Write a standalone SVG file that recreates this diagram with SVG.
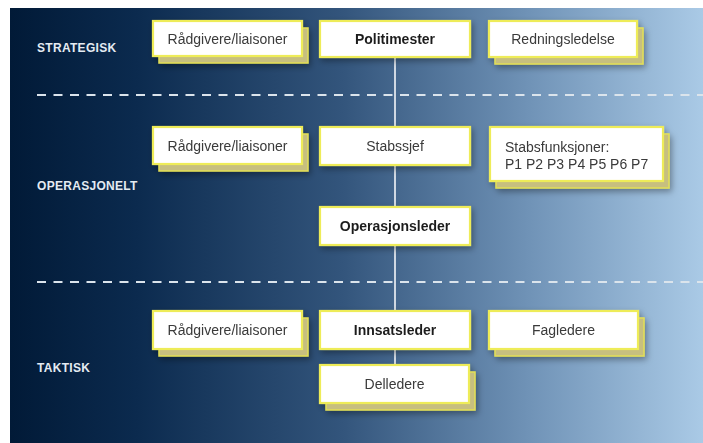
<svg xmlns="http://www.w3.org/2000/svg" width="703" height="443" viewBox="0 0 703 443">
<defs>
<linearGradient id="bg" x1="10" y1="0" x2="703" y2="0" gradientUnits="userSpaceOnUse">
<stop offset="0" stop-color="#011a37"/>
<stop offset="0.18" stop-color="#0b2a4e"/>
<stop offset="0.48" stop-color="#33557c"/>
<stop offset="0.75" stop-color="#7093b7"/>
<stop offset="1" stop-color="#aacae6"/>
</linearGradient>
<filter id="ds" x="-20%" y="-30%" width="140%" height="170%">
<feDropShadow dx="2" dy="3" stdDeviation="3" flood-color="#000" flood-opacity="0.35"/>
</filter>
<style>
.box{fill:#fff;stroke:#eeec58;stroke-width:2.2}
.sh{fill:#c7bf7f;stroke:#e3df55;stroke-width:1.5}
.t{font-family:"Liberation Sans",Arial,sans-serif;font-size:14px;fill:#3a3a3a;text-anchor:middle}
.l{text-anchor:start}
.b{font-weight:bold;fill:#1e1e1e}
.lvl{font-family:"Liberation Sans",Arial,sans-serif;font-size:12px;font-weight:bold;fill:#e4ebf2;letter-spacing:0.3px}
.dash{stroke:#dbe4ec;stroke-width:2;stroke-dasharray:9 7.5;fill:none}
</style>
</defs>
<rect x="0" y="0" width="703" height="443" fill="#fff"/>
<rect x="10" y="8" width="693" height="435" fill="url(#bg)"/>
<g id="dividers">
<line class="dash" x1="37" y1="95" x2="703" y2="95"/>
<line class="dash" x1="37" y1="282" x2="703" y2="282"/>
</g>
<g id="levels">
<text class="lvl" x="37" y="52">STRATEGISK</text>
<text class="lvl" x="37" y="190">OPERASJONELT</text>
<text class="lvl" x="37" y="372">TAKTISK</text>
</g>
<g id="connectors">
<line x1="395" y1="57" x2="395" y2="365" stroke="#fff" stroke-width="1.5"/>
</g>
<g id="n-raad1" filter="url(#ds)">
<rect class="sh" x="159" y="28" width="149" height="35"/>
<rect class="box" x="153" y="21" width="149" height="35"/>
<text class="t" x="227.5" y="44">Rådgivere/liaisoner</text>
</g>
<g id="n-politimester" filter="url(#ds)">
<rect class="box" x="320" y="21" width="150" height="36"/>
<text class="t b" x="395" y="44">Politimester</text>
</g>
<g id="n-redning" filter="url(#ds)">
<rect class="sh" x="495" y="28" width="148" height="36"/>
<rect class="box" x="489" y="21" width="148" height="36"/>
<text class="t" x="563" y="44">Redningsledelse</text>
</g>
<g id="n-raad2" filter="url(#ds)">
<rect class="sh" x="159" y="134" width="149" height="37"/>
<rect class="box" x="153" y="127" width="149" height="37"/>
<text class="t" x="227.5" y="151">Rådgivere/liaisoner</text>
</g>
<g id="n-stabssjef" filter="url(#ds)">
<rect class="box" x="320" y="127" width="150" height="38"/>
<text class="t" x="395" y="151">Stabssjef</text>
</g>
<g id="n-stabsfunksjoner" filter="url(#ds)">
<rect class="sh" x="496" y="134" width="173" height="54"/>
<rect class="box" x="490" y="127" width="173" height="54"/>
<text class="t l" x="505" y="152">Stabsfunksjoner:</text>
<text class="t l" x="505" y="169">P1 P2 P3 P4 P5 P6 P7</text>
</g>
<g id="n-operasjonsleder" filter="url(#ds)">
<rect class="box" x="320" y="207" width="150" height="38"/>
<text class="t b" x="395" y="231">Operasjonsleder</text>
</g>
<g id="n-raad3" filter="url(#ds)">
<rect class="sh" x="159" y="318" width="149" height="38"/>
<rect class="box" x="153" y="311" width="149" height="38"/>
<text class="t" x="227.5" y="335">Rådgivere/liaisoner</text>
</g>
<g id="n-innsatsleder" filter="url(#ds)">
<rect class="box" x="320" y="311" width="150" height="38"/>
<text class="t b" x="395" y="335">Innsatsleder</text>
</g>
<g id="n-fagledere" filter="url(#ds)">
<rect class="sh" x="495" y="318" width="149" height="38"/>
<rect class="box" x="489" y="311" width="149" height="38"/>
<text class="t" x="563.5" y="335">Fagledere</text>
</g>
<g id="n-delledere" filter="url(#ds)">
<rect class="sh" x="326" y="372" width="149" height="38"/>
<rect class="box" x="320" y="365" width="149" height="38"/>
<text class="t" x="394.5" y="389">Delledere</text>
</g>
</svg>
